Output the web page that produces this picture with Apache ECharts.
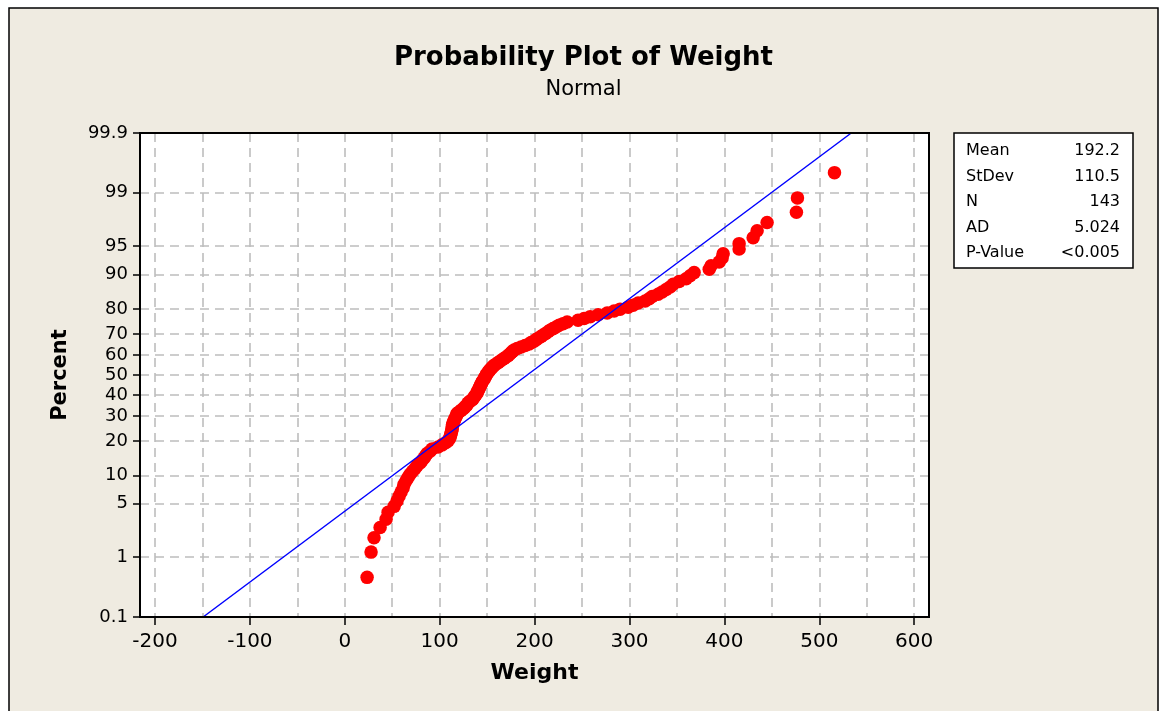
<!DOCTYPE html>
<html><head><meta charset="utf-8">
<script src="https://cdn.jsdelivr.net/npm/echarts@6/dist/echarts.min.js"></script>
<style>html,body{margin:0;padding:0;background:#fff;} #c{width:1167px;height:711px;}</style>
</head><body><div id="c"></div>
<script>
// ---- data ----
const weights = [23.5,27.7,30.8,37.2,43.5,45.6,52,55,57.2,59.3,
61.4,62.5,64.6,66.7,68.8,71.4,74,76.2,79.3,81.4,
83.5,85.1,86.7,89.9,92,98.3,102.5,106.2,108.8,110,
111,111.5,112,112.5,113,113,113.5,113.5,114,115,
115.7,116.2,117.3,117.8,118.3,120.4,122.5,124.6,126.2,127.8,
128.9,129.9,131.5,134.1,135.2,136.2,137.3,138.3,139.4,140,
140.5,141.5,142,142.6,143.6,144.1,144.7,145.7,146.8,147.3,
148.4,148.9,149.9,151,152,153.1,154.7,155.7,157.3,159.4,
161.5,163.6,165.7,167.9,170,172.1,173.7,175.2,176.8,178.4,
181.6,185.8,190,194.2,196.3,199.5,201.6,204.2,206.9,209,
211.6,214.2,216.3,219.5,222.7,225.8,230,234.3,245.8,252.2,
258.6,267,276.5,283.8,290.1,298.6,303.8,309.1,316.5,320.7,
323.9,330.2,334.4,338.6,342.8,346,352.3,359.7,363.9,368.1,
384,386,394.5,397.6,398.7,415.5,415.5,430.3,434.5,445,475.9,477,516];
const percentTicks = [0.1,1,5,10,20,30,40,50,60,70,80,90,95,99,99.9];
const xLabelTicks = [-200,-100,0,100,200,300,400,500,600];
const xGridTicks = [-200,-150,-100,-50,0,50,100,150,200,250,300,350,400,450,500,550,600];
const statLabels = ['Mean','StDev','N','AD','P-Value'];
const statValues = ['192.2','110.5','143','5.024','<0.005'];
const fitMean = 192.2, fitSd = 110.5;
const xMin = -215.8, xMax = 615.6;

// inverse standard normal CDF (probability-scale transform)
function probit(p){
 const a=[-3.969683028665376e+01,2.209460984245205e+02,-2.759285104469687e+02,1.383577518672690e+02,-3.066479806614716e+01,2.506628277459239e+00];
 const b=[-5.447609879822406e+01,1.615858368580409e+02,-1.556989798598866e+02,6.680131188771972e+01,-1.328068155288572e+01];
 const c=[-7.784894002430293e-03,-3.223964580411365e-01,-2.400758277161838e+00,-2.549671348880542e+00,4.374664141464968e+00,2.938163982698783e+00];
 const d=[7.784695709041462e-03,3.224671290700398e-01,2.445134137142996e+00,3.754408661907416e+00];
 const pl=0.02425, ph=1-pl; let q,r;
 if(p<pl){q=Math.sqrt(-2*Math.log(p));return (((((c[0]*q+c[1])*q+c[2])*q+c[3])*q+c[4])*q+c[5])/((((d[0]*q+d[1])*q+d[2])*q+d[3])*q+1);}
 if(p<=ph){q=p-0.5;r=q*q;return (((((a[0]*r+a[1])*r+a[2])*r+a[3])*r+a[4])*r+a[5])*q/(((((b[0]*r+b[1])*r+b[2])*r+b[3])*r+b[4])*r+1);}
 q=Math.sqrt(-2*Math.log(1-p));return -(((((c[0]*q+c[1])*q+c[2])*q+c[3])*q+c[4])*q+c[5])/((((d[0]*q+d[1])*q+d[2])*q+d[3])*q+1);
}
const zTicks = percentTicks.map(p => probit(p/100));
const zMin = zTicks[0], zMax = zTicks[zTicks.length-1];
const n = weights.length;
const points = weights.map((w,i) => [w, probit((i+1-0.3)/(n+0.4))]);
const fitLine = [[fitMean + fitSd*zMin, zMin],[fitMean + fitSd*zMax, zMax]];

const FONT = 'DejaVu Sans';
const chart = echarts.init(document.getElementById('c'), null, {renderer:'canvas'});
const gridLineStyle = {color:'#BDBDBD', width:1.6, type:[9,6]};
const legendRows = [];
statLabels.forEach((s,i) => {
  const y = 151 + i*25.5;
  legendRows.push({type:'text', z:101, style:{text:s, x:966, y:y, fill:'#000', font:'16px '+FONT, textAlign:'left', textVerticalAlign:'middle'}});
  legendRows.push({type:'text', z:101, style:{text:statValues[i], x:1120, y:y, fill:'#000', font:'16px '+FONT, textAlign:'right', textVerticalAlign:'middle'}});
});

chart.setOption({
  backgroundColor:'transparent',
  animation:false,
  title:[
    {text:'Probability Plot of Weight', left:'center', top:40, textStyle:{fontFamily:FONT, fontWeight:'bold', fontSize:26, color:'#000'}},
    {text:'Normal', left:'center', top:74, textStyle:{fontFamily:FONT, fontWeight:'normal', fontSize:21, color:'#000'}}
  ],
  grid:{left:140, top:133, width:789, height:484, show:true, backgroundColor:'#fff', borderColor:'#000', borderWidth:0, containLabel:false},
  xAxis:[
    {type:'value', min:xMin, max:xMax, position:'bottom',
     name:'Weight', nameLocation:'middle', nameGap:45,
     nameTextStyle:{fontFamily:FONT, fontWeight:'bold', fontSize:22, color:'#000'},
     axisLine:{show:false, onZero:false},
     axisTick:{show:false, customValues:xGridTicks},
     axisLabel:{customValues:xLabelTicks, fontFamily:FONT, fontSize:20, color:'#000', margin:15},
     splitLine:{show:true, lineStyle:gridLineStyle}},
    {type:'value', min:xMin, max:xMax, position:'bottom',
     axisLine:{show:false, onZero:false},
     axisTick:{show:true, inside:false, length:8, customValues:xLabelTicks, lineStyle:{color:'#000', width:1.5}},
     axisLabel:{show:false},
     splitLine:{show:false}}
  ],
  yAxis:{type:'value', min:zMin, max:zMax, position:'left',
     name:'Percent', nameLocation:'middle', nameGap:69, nameRotate:90,
     nameTextStyle:{fontFamily:FONT, fontWeight:'bold', fontSize:21, color:'#000'},
     axisLine:{show:false, onZero:false},
     axisTick:{show:true, length:7, customValues:zTicks, lineStyle:{color:'#000', width:1.5}},
     axisLabel:{customValues:zTicks, fontFamily:FONT, fontSize:18, color:'#000', margin:12,
       formatter:function(v){let bi=0,bd=1e9;zTicks.forEach((z,i)=>{const d=Math.abs(z-v);if(d<bd){bd=d;bi=i;}});return String(percentTicks[bi]);}},
     splitLine:{show:true, lineStyle:gridLineStyle}},
  series:[
    {type:'scatter', data:points, symbol:'circle', symbolSize:13.5, itemStyle:{color:'#FF0000', opacity:1}, z:3, silent:true},
    {type:'line', data:fitLine, symbol:'none', lineStyle:{color:'#0000FF', width:1.5}, z:4, silent:true}
  ],
  graphic:[
    {type:'rect', z:-100, shape:{x:9, y:8, width:1149, height:740}, style:{fill:'#EFEBE1', stroke:'#000', lineWidth:1.5}},
    {type:'rect', z:50, silent:true, shape:{x:140, y:133, width:789, height:484}, style:{fill:null, stroke:'#000', lineWidth:2}},
    {type:'rect', z:100, shape:{x:954, y:133, width:179, height:135}, style:{fill:'#fff', stroke:'#000', lineWidth:1.5}}
  ].concat(legendRows)
});
</script></body></html>
